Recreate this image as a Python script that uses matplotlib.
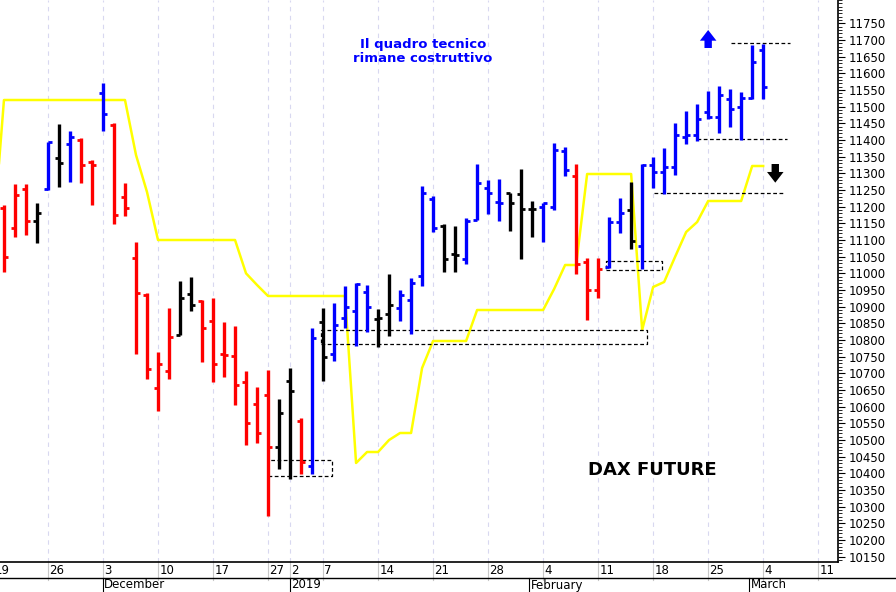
import matplotlib
matplotlib.use("Agg")
import matplotlib.pyplot as plt
from matplotlib.ticker import MultipleLocator

# OHLC bars by trading-day index (1 = 20 Nov 2018)
opens  = [11195,11135,11252,11157,11252,11345,11387,11400,11335,11540,11445,11230,11045,10935,10657,10707,10815,10937,10918,10857,10757,10753,10675,10608,10635,10478,10677,
          10558,10423,10853,10758,10867,10887,10943,10862,10877,10895,10920,10992,11222,11142,11057,11042,11160,11257,11215,11240,11237,11192,11198,11200,11367,
          11293,11033,10950,11018,11155,11190,11082,11325,11305,11320,11410,11415,11485,11470,11523,11498,11525,11670]
highs  = [11205,11268,11268,11210,11395,11447,11427,11407,11340,11572,11450,11270,11095,10940,10765,10895,10977,10990,10920,10927,10853,10843,10708,10660,10710,10622,10715,
          10565,10837,10897,10912,10962,10972,10965,10892,10997,10950,10985,11262,11232,11148,11142,11167,11327,11280,11282,11242,11312,11217,11212,11390,11380,
          11327,11047,11045,11170,11225,11273,11327,11350,11375,11450,11487,11507,11548,11562,11552,11545,11685,11687]
lows   = [11005,11110,11115,11090,11250,11260,11273,11270,11205,11428,11147,11173,10757,10682,10587,10682,10815,10887,10733,10673,10690,10605,10485,10492,10272,10412,10382,
          10397,10397,10677,10737,10835,10782,10825,10780,10812,10858,10817,10962,11125,11003,11005,11027,11160,11177,11158,11128,11042,11108,11093,11190,11293,
          10997,10860,10925,11015,11120,11072,11013,11255,11237,11295,11388,11398,11462,11422,11438,11400,11523,11523]
closes = [11050,11235,11157,11182,11395,11330,11410,11325,11325,11478,11175,11195,10940,10712,10728,10810,10925,10905,10835,10728,10755,10665,10550,10520,10480,10582,10647,
          10433,10807,10750,10845,10900,10967,10900,10865,10905,10935,10970,11242,11135,11042,11055,11157,11270,11240,11210,11210,11192,11192,11210,11370,11310,
          11027,10950,11012,11155,11182,11098,11325,11305,11320,11415,11415,11463,11470,11535,11492,11525,11633,11560]
colors = list("rrrkbkbrrbrrrrrrkkrrrrrrrkk" "rbkbbbbkkbbbbkkbbbbkkkbbb" "rrrbbkbbbbbbbbbbbb")
cmap = {"r": "#ff0000", "b": "#0000ff", "k": "#000000"}

# yellow line by index 0..70
yellow = [11100] + [11520]*12 + [11355, 11244] + [11100]*8 + [11000, 10965] + [10932]*8 + \
         [10431, 10464, 10464, 10500, 10521, 10521, 10716] + [10797]*4 + [10890]*7 + \
         [10953, 11025, 11025] + [11298]*5 + [10830, 10959, 10974, 11050, 11124, 11154] + [11217]*4 + [11322, 11322]

tick_idx = [0, 5, 10, 15, 20, 25, 27, 30, 35, 40, 45, 50, 55, 60, 65, 70, 75]
tick_lab = ["19", "26", "3", "10", "17", "27", "2", "7", "14", "21", "28", "4", "11", "18", "25", "4", "11"]
month_idx = [10, 27, 49, 69]
month_lab = ["December", "2019", "February", "March"]

W, H = 896, 592
fig = plt.figure(figsize=(W/100, H/100), dpi=100)
ax = fig.add_axes([0, 30/H, 838/W, 562/H])
x0, x1 = 0.64, 76.8
ax.set_xlim(x0, x1)
ax.set_ylim(10134, 11820)

for t in tick_idx:
    ax.axvline(t, color="#d8d8f0", lw=0.8, ls=(0, (4, 4)), zorder=0)

ax.plot(range(len(yellow)), yellow, color="#ffff00", lw=1.8, zorder=1)

for k, (o, h, l, c) in enumerate(zip(opens, highs, lows, closes)):
    i = k + 1
    col = cmap[colors[k]]
    ax.plot([i, i], [l, h], color=col, lw=2.4, solid_capstyle="butt", zorder=3)
    ax.plot([i - 0.38, i], [o, o], color=col, lw=2.0, solid_capstyle="butt", zorder=3)
    ax.plot([i, i + 0.38], [c, c], color=col, lw=2.0, solid_capstyle="butt", zorder=3)

dk = dict(color="black", lw=0.9, ls=(0, (3, 2)), zorder=2)
def box(a, b, lo, hi):
    ax.plot([a, b, b, a, a], [lo, lo, hi, hi, lo], **dk)
box(25, 30.8, 10392, 10440)
box(29.8, 59.4, 10788, 10830)
box(55.7, 60.8, 11010, 11037)
ax.plot([60.1, 71.8], [11240, 11240], **dk)
ax.plot([64, 72.2], [11403, 11403], **dk)
ax.plot([67.1, 72.4], [11690, 11690], **dk)

astyle = "simple,head_width=0.85,head_length=0.55,tail_width=0.38"
ax.annotate("", xy=(65, 11730), xytext=(65, 11676),
            arrowprops=dict(arrowstyle=astyle, color="#0000ff", lw=0, mutation_scale=14, shrinkA=0, shrinkB=0))
ax.annotate("", xy=(71.1, 11272), xytext=(71.1, 11328),
            arrowprops=dict(arrowstyle=astyle, color="black", lw=0, mutation_scale=14, shrinkA=0, shrinkB=0))

ax.text(39.1, 11665, "Il quadro tecnico\nrimane costruttivo", color="#0000ff", fontsize=9.5,
        fontweight="bold", ha="center", va="center", linespacing=1.05)
ax.text(59.9, 10410, "DAX FUTURE", color="black", fontsize=13, fontweight="bold", ha="center", va="center")

ax.yaxis.tick_right()
ax.yaxis.set_minor_locator(MultipleLocator(10))
ax.tick_params(axis="y", which="major", length=5, labelsize=8.5, pad=3)
ax.tick_params(axis="y", which="minor", length=3)
ax.set_yticks(range(10150, 11800, 50))
ax.set_xticks([])
for s in ["top", "left"]:
    ax.spines[s].set_visible(False)
ax.spines["bottom"].set_linewidth(1.2)
ax.spines["right"].set_linewidth(1.2)

tr = ax.get_xaxis_transform()
for t, lab in zip(tick_idx, tick_lab):
    ax.plot([t, t], [0, -18/562], transform=tr, color="#c8c8c8", lw=0.8, clip_on=False)
    ax.text(t + 0.12, -9/562, lab, transform=tr, fontsize=8.5, ha="left", va="center", clip_on=False)
ax.plot([x0, x1 + 6], [-16/562, -16/562], transform=tr, color="black", lw=1.0, clip_on=False)
for t, lab in zip(month_idx, month_lab):
    xm = t - 0.25 if t in (49, 69) else t
    ax.plot([xm, xm], [-16/562, -30/562], transform=tr, color="black", lw=0.8, clip_on=False)
    ax.text(xm + 0.12, -23/562, lab, transform=tr, fontsize=8.5, ha="left", va="center", clip_on=False)

fig.savefig("out.png", dpi=100, facecolor="white")
